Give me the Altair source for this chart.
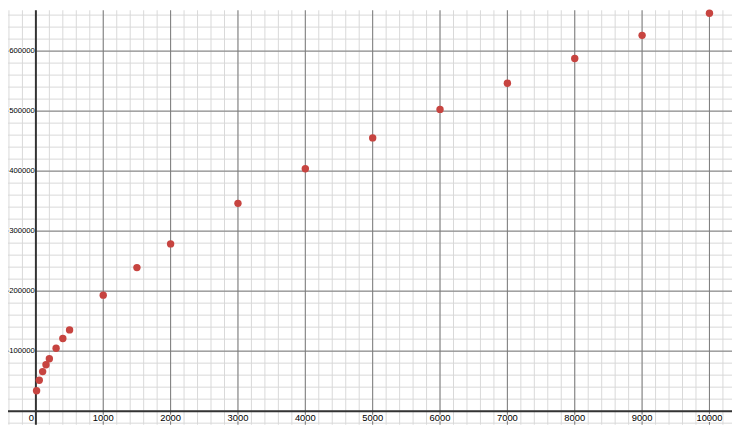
import altair as alt
import pandas as pd

# data points
xs = [10, 50, 100, 150, 200, 300, 400, 500, 1000, 1500, 2000, 3000, 4000, 5000, 6000, 7000, 8000, 9000, 10000]
ys = [34000, 51600, 65900, 77300, 87400, 104800, 121000, 135400, 193300, 239200, 278700,
      346300, 404000, 455400, 502900, 546400, 587600, 626300, 663100]

x_major = [1000, 2000, 3000, 4000, 5000, 6000, 7000, 8000, 9000, 10000]
y_major = [100000, 200000, 300000, 400000, 500000, 600000]
x_labels = ["1000", "2000", "3000", "4000", "5000", "6000", "7000", "8000", "9000", "10000"]
y_labels = ["100000", "200000", "300000", "400000", "500000", "600000"]
x_minor = list(range(-400, 10400, 200))
y_minor = list(range(-20000, 680000, 20000))

X_DOM = [-414.1, 10334.8]
Y_DOM = [-22581, 668040]

xs_scale = alt.Scale(domain=X_DOM, nice=False, zero=False)
ys_scale = alt.Scale(domain=Y_DOM, nice=False, zero=False)

pts = pd.DataFrame({"x": xs, "y": ys})
xmin_df = pd.DataFrame({"gx": x_minor})
ymin_df = pd.DataFrame({"gy": y_minor})
xmaj_df = pd.DataFrame({"x": x_major, "y": [0] * len(x_major), "t": x_labels})
ymaj_df = pd.DataFrame({"y": y_major, "x": [0] * len(y_major), "t": y_labels})
zero_df = pd.DataFrame({"x": [0], "y": [0], "t": ["0"]})

X = lambda f: alt.X(f, scale=xs_scale, axis=None, title=None)
Y = lambda f: alt.Y(f, scale=ys_scale, axis=None, title=None)

minor_v = alt.Chart(xmin_df).mark_rule(color="#d9d9d9", strokeWidth=1).encode(x=X("gx:Q"))
minor_h = alt.Chart(ymin_df).mark_rule(color="#d9d9d9", strokeWidth=1).encode(y=Y("gy:Q"))
major_v = alt.Chart(xmaj_df).mark_rule(color="#7a7a7a", strokeWidth=1).encode(x=X("x:Q"))
major_h = alt.Chart(ymaj_df).mark_rule(color="#7a7a7a", strokeWidth=1).encode(y=Y("y:Q"))
axis_v = alt.Chart(zero_df).mark_rule(color="#333333", strokeWidth=2).encode(x=X("x:Q"))
axis_h = alt.Chart(zero_df).mark_rule(color="#333333", strokeWidth=2).encode(y=Y("y:Q"))

def lab(df, halo, font, fs, **kw):
    base = dict(baseline="middle", font=font, fontSize=fs, **kw)
    if halo:
        m = alt.Chart(df).mark_text(stroke="white", strokeWidth=2, color="white", **base)
    else:
        m = alt.Chart(df).mark_text(color="#000000", **base)
    return m.encode(x=X("x:Q"), y=Y("y:Q"), text="t:N")

ykw = dict(align="right", dx=-1, font="Liberation Sans", fs=7.8)
xkw = dict(align="center", dy=7, font="Liberation Sans", fs=9.5)
zkw = dict(align="right", dx=-2, dy=7, font="Liberation Sans", fs=9.5)

points = alt.Chart(pts).mark_circle(color="#c74440", size=56, opacity=1).encode(
    x=X("x:Q"), y=Y("y:Q"))

chart = alt.layer(
    minor_v, minor_h, major_v, major_h,
    lab(ymaj_df, True, **ykw), lab(xmaj_df, True, **xkw), lab(zero_df, True, **zkw),
    lab(ymaj_df, False, **ykw), lab(xmaj_df, False, **xkw), lab(zero_df, False, **zkw),
    axis_v, axis_h,
    points,
).properties(
    width=732, height=419, padding=0, autosize=alt.AutoSizeParams(type="none"),
    background="white",
).configure_view(stroke=None)

chart.save("out.html", embed_options={"renderer": "svg", "actions": False})
